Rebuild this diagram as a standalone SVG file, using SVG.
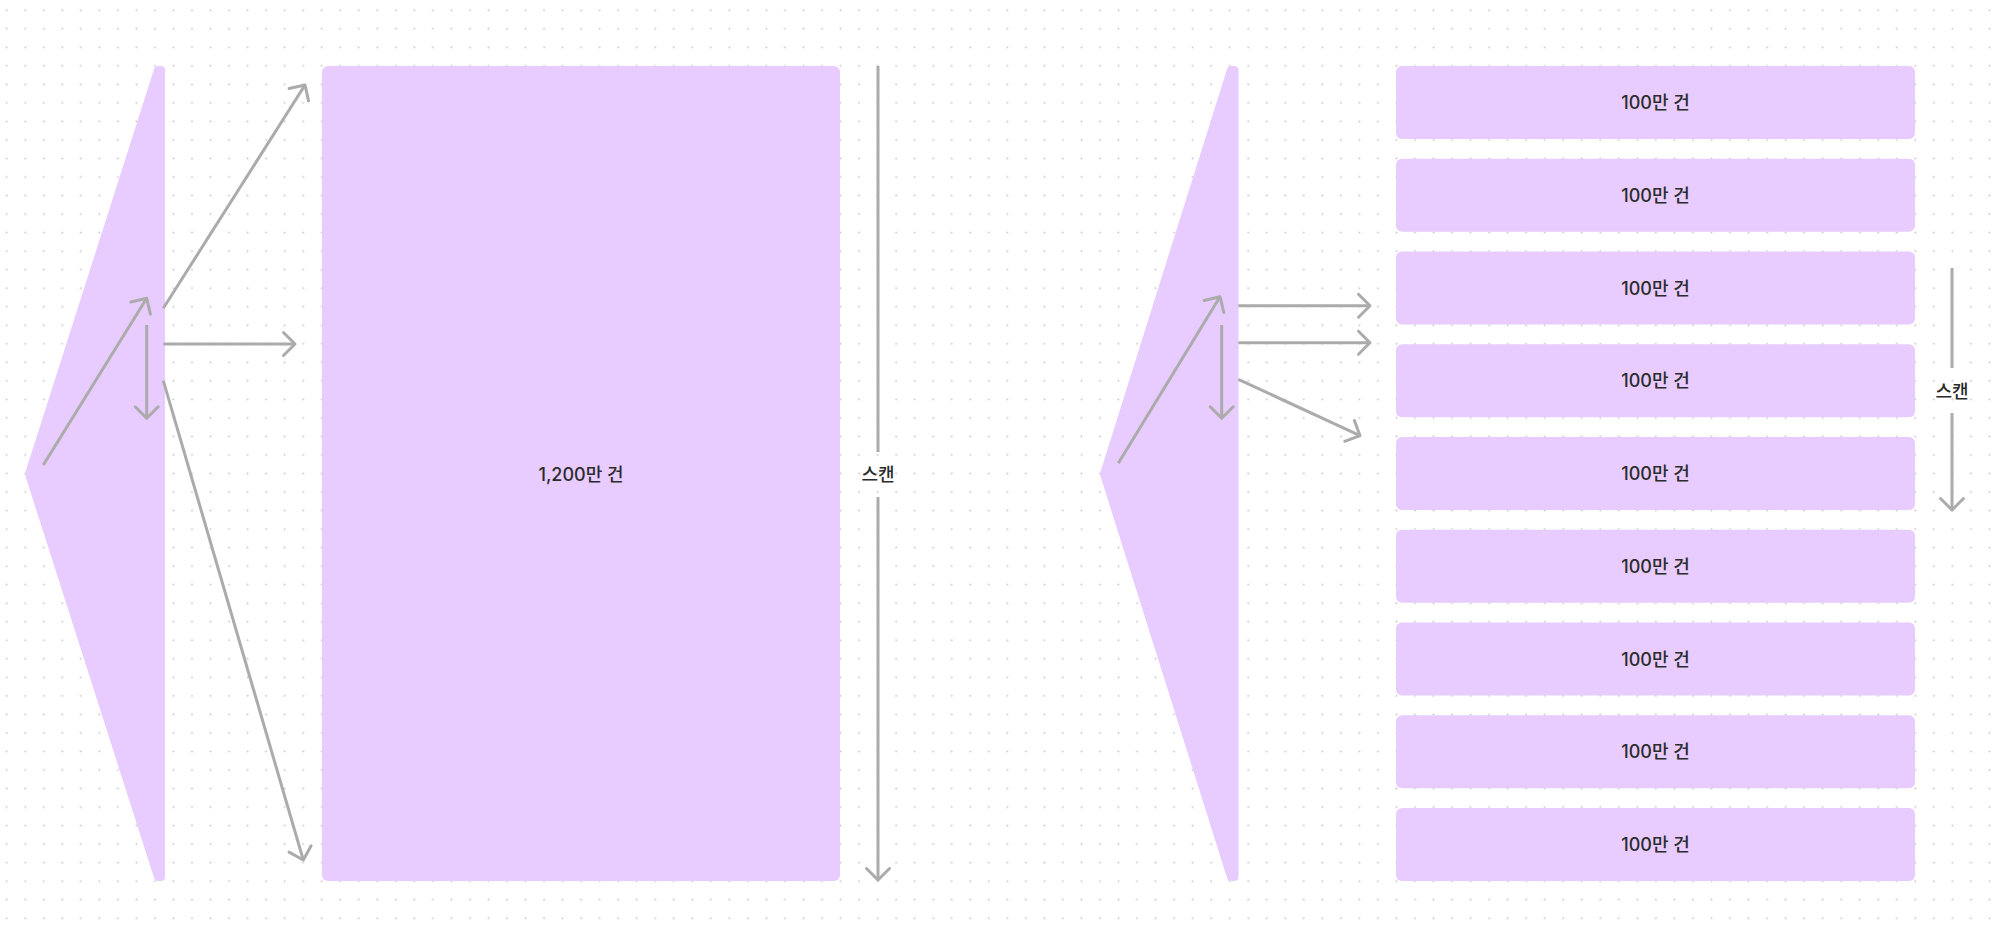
<svg xmlns="http://www.w3.org/2000/svg" width="2000" height="926" viewBox="0 0 2000 926">
<style>
.shape{fill:#E8CBFF;stroke:#E8CBFF;stroke-width:8;stroke-linejoin:round}
.box{fill:#E8CBFF}
.lbl{font-family:Inter,"Noto Sans CJK KR",sans-serif;font-size:18px;font-weight:500;fill:#2b2b2b;text-anchor:middle;dominant-baseline:central}
.conn line{stroke:#ABABAB;stroke-width:3;fill:none;marker-end:url(#chev)}
.conn line.plain{marker-end:none}
</style>
<defs>
<pattern id="dots" patternUnits="userSpaceOnUse" x="-2.565" y="0.975" width="18.53" height="18.53">
<circle cx="9.265" cy="9.265" r="1" fill="#c9c9c9"/>
</pattern>
<marker id="chev" markerUnits="userSpaceOnUse" markerWidth="30" markerHeight="30" refX="0" refY="0" viewBox="-15 -15 30 30" orient="auto" overflow="visible">
<path d="M -11.5 -11.5 L 0 0 L -11.5 11.5" fill="none" stroke="#ABABAB" stroke-width="3" stroke-linecap="round" stroke-linejoin="round"/>
</marker>
</defs>
<rect width="2000" height="926" fill="#ffffff"/>
<rect width="2000" height="926" fill="url(#dots)"/>

<g id="left-fan"><path class="shape" d="M 158 70 L 161 70 L 161 877 L 158 877 L 29 474 Z"/></g>
<g id="big-table"><rect class="box" x="322" y="66" width="518" height="815" rx="6"/><text class="lbl" x="581" y="474">1,200만 건</text></g>
<g id="left-scan-label"><text class="lbl" x="878" y="474">스캔</text></g>

<g id="right-fan"><path class="shape" d="M 1231 70 L 1234.5 70 L 1234.5 877 L 1231 877 L 1104 474 Z"/></g>
<g id="part-1"><rect class="box" x="1396" y="66" width="519" height="73" rx="6"/><text class="lbl" x="1655.5" y="102.5">100만 건</text></g>
<g id="part-2"><rect class="box" x="1396" y="158.75" width="519" height="73" rx="6"/><text class="lbl" x="1655.5" y="195.25">100만 건</text></g>
<g id="part-3"><rect class="box" x="1396" y="251.5" width="519" height="73" rx="6"/><text class="lbl" x="1655.5" y="288">100만 건</text></g>
<g id="part-4"><rect class="box" x="1396" y="344.25" width="519" height="73" rx="6"/><text class="lbl" x="1655.5" y="380.75">100만 건</text></g>
<g id="part-5"><rect class="box" x="1396" y="437" width="519" height="73" rx="6"/><text class="lbl" x="1655.5" y="473.5">100만 건</text></g>
<g id="part-6"><rect class="box" x="1396" y="529.75" width="519" height="73" rx="6"/><text class="lbl" x="1655.5" y="566.25">100만 건</text></g>
<g id="part-7"><rect class="box" x="1396" y="622.5" width="519" height="73" rx="6"/><text class="lbl" x="1655.5" y="659">100만 건</text></g>
<g id="part-8"><rect class="box" x="1396" y="715.25" width="519" height="73" rx="6"/><text class="lbl" x="1655.5" y="751.75">100만 건</text></g>
<g id="part-9"><rect class="box" x="1396" y="808" width="519" height="73" rx="6"/><text class="lbl" x="1655.5" y="844.5">100만 건</text></g>
<g id="right-scan-label"><text class="lbl" x="1952" y="391">스캔</text></g>

<g id="connectors" class="conn">
<line x1="43.3" y1="465" x2="146.7" y2="298.3"/>
<line x1="146.7" y1="325" x2="146.7" y2="418.3"/>
<line x1="163.3" y1="308.3" x2="305" y2="85"/>
<line x1="163.3" y1="344" x2="295" y2="344"/>
<line x1="163.3" y1="380.7" x2="303.3" y2="860"/>
<line class="plain" x1="878" y1="66" x2="878" y2="452"/>
<line x1="878" y1="497" x2="878" y2="880"/>

<line x1="1118.3" y1="463.3" x2="1220" y2="296.7"/>
<line x1="1221.7" y1="325" x2="1221.7" y2="418.3"/>
<line x1="1238.3" y1="305.7" x2="1370" y2="305.7"/>
<line x1="1238.3" y1="342.7" x2="1370" y2="342.7"/>
<line x1="1238.3" y1="379.3" x2="1360" y2="435.7"/>
<line class="plain" x1="1952" y1="268" x2="1952" y2="368"/>
<line x1="1952" y1="413" x2="1952" y2="510"/>
</g>
</svg>
